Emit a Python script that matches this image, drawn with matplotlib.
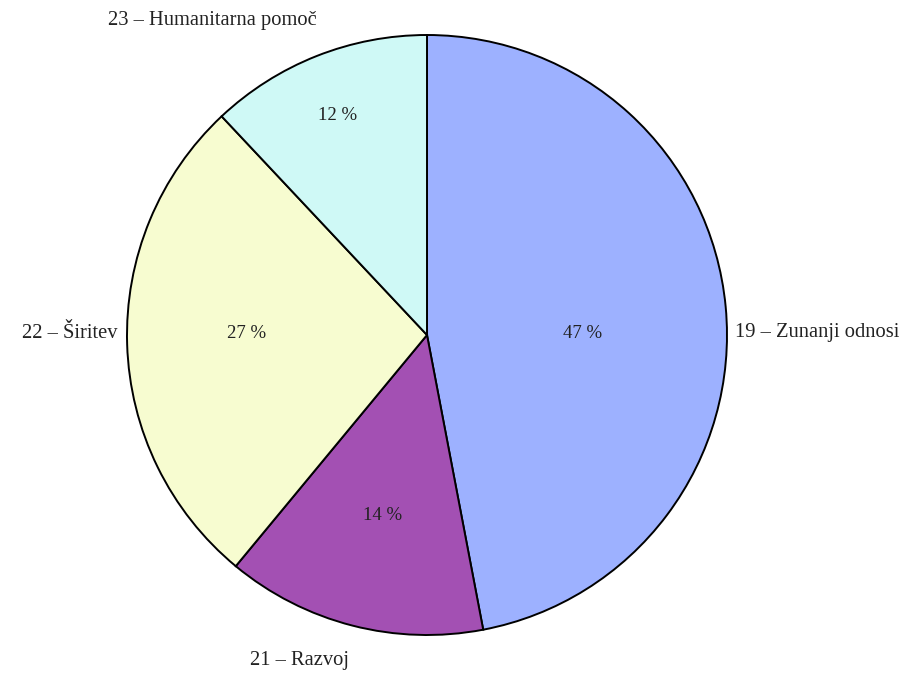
import numpy as np
import matplotlib.pyplot as plt

labels = ['19 – Zunanji odnosi', '21 – Razvoj', '22 – Širitev', '23 – Humanitarna pomoč']
shares = [47, 14, 27, 12]
colors = ['#9db1ff', '#a350b3', '#f7fcd0', '#cff9f6']
pct_dist = [0.52, 0.62, 0.6, 0.79]
pct_shift = [-4.7, 0.5, -2.4, 0.5]   # degrees, nudges the percent text inside its wedge

plt.rcParams['font.family'] = ['Liberation Serif', 'DejaVu Serif']

fig = plt.figure(figsize=(9.18, 6.73), dpi=100)
ax = fig.add_axes([0, 0, 1, 1])

cx, cy, r = 427, 338, 300
wedges, texts, autotexts = ax.pie(
    shares, colors=colors, startangle=90, counterclock=False,
    center=(cx, cy), radius=r, autopct='%d %%',
    wedgeprops=dict(edgecolor='black', linewidth=1.4),
    textprops=dict(fontsize=13.5, color='#222222'))

for w, t, d, s in zip(wedges, autotexts, pct_dist, pct_shift):
    ang = np.deg2rad((w.theta1 + w.theta2) / 2 + s)
    t.set_position((cx + d * r * np.cos(ang), cy + d * r * np.sin(ang)))

ax.set_xlim(0, 918)
ax.set_ylim(0, 673)
ax.axis('off')

# category labels outside the pie
kw = dict(fontsize=14.8, va='center', color='#222222')
ax.text(735, 340, labels[0], ha='left', **kw)
ax.text(300, 12, labels[1], ha='center', **kw)
ax.text(117, 340, labels[2], ha='right', **kw)
ax.text(212, 653, labels[3], ha='center', **kw)

fig.savefig('out.png', dpi=100, facecolor='white')
